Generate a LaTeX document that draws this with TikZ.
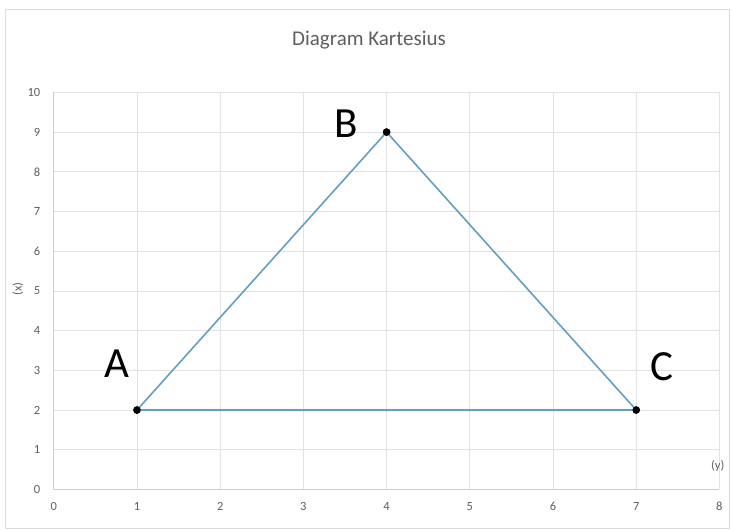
\documentclass[tikz,border=0pt]{standalone}
\usepackage{fontspec}
\setmainfont{Carlito}
\definecolor{gridc}{RGB}{226,226,226}
\definecolor{axisc}{RGB}{205,205,205}
\definecolor{framec}{RGB}{220,220,220}
\definecolor{tickc}{RGB}{95,95,95}
\definecolor{linec}{RGB}{100,158,195}
\tikzset{
  gridline/.style={draw=gridc, line width=0.8pt},
  axisline/.style={draw=axisc, line width=1pt},
  ticklab/.style={text=tickc, font=\fontsize{12.5}{14}\selectfont, inner sep=0pt},
  ptlab/.style={text=black, font=\fontsize{43}{46}\selectfont, inner sep=0pt},
  edge/.style={draw=linec, line width=1.6pt},
  dot/.style={circle, fill=black, inner sep=0pt, minimum size=7.5pt}
}
\begin{document}
\begin{tikzpicture}[x=1pt,y=-1pt]
\useasboundingbox (0,0) rectangle (732,530);
\fill[white] (0,0) rectangle (732,530);
\draw[framec, line width=1pt] (5,9) rectangle (729,528);
\node[text=tickc, font=\fontsize{21}{24}\selectfont] (title) at (369,40) {Diagram Kartesius};
\begin{scope}[shift={(53.8,489.4)}, x=83.2pt, y=39.7pt]
  \foreach \i in {1,...,8} \draw[gridline] (\i,0) -- (\i,10);
  \foreach \j in {1,...,10} \draw[gridline] (0,\j) -- (8,\j);
  \draw[axisline] (0,10) -- (0,0) -- (8,0);
  \foreach \i in {0,...,8} \node[ticklab] (xt\i) at (\i,-0.42) {\i};
  \foreach \j in {0,...,10} \node[ticklab, anchor=east] (yt\j) at (-0.16,\j) {\j};
  \node[ticklab, rotate=90] (ylab) at (-0.43,5.05) {(x)};
  \node[ticklab] (xlab) at (7.98,0.58) {(y)};
  \node[dot] (A) at (1,2) {};
  \node[dot] (B) at (4,9) {};
  \node[dot] (C) at (7,2) {};
  \draw[edge] (A.center) -- (B.center) -- (C.center) -- (A.center);
  \node[dot] at (1,2) {};
  \node[dot] at (4,9) {};
  \node[dot] at (7,2) {};
  \node[ptlab] (la) at (0.76,3.16) {A};
  \node[ptlab] (lb) at (3.52,9.2) {B};
  \node[ptlab] (lc) at (7.31,3.1) {C};
\end{scope}
\end{tikzpicture}
\end{document}
